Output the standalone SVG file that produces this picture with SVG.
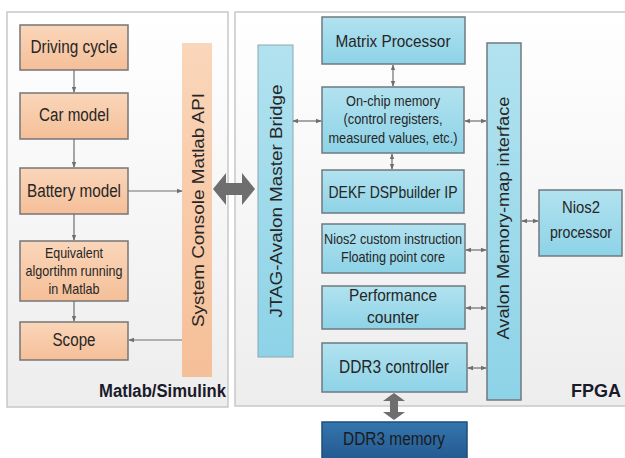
<svg xmlns="http://www.w3.org/2000/svg" width="625" height="458" viewBox="0 0 625 458">
<defs>
<linearGradient id="gPanel" x1="0" y1="0" x2="0" y2="1"><stop offset="0" stop-color="#ffffff"/><stop offset="1" stop-color="#ededed"/></linearGradient>
<linearGradient id="gOrange" x1="0" y1="0" x2="0" y2="1"><stop offset="0" stop-color="#fad6ba"/><stop offset="1" stop-color="#f5bf98"/></linearGradient>
<linearGradient id="gBlue" x1="0" y1="0" x2="0" y2="1"><stop offset="0" stop-color="#b2e2ef"/><stop offset="1" stop-color="#8dd3e7"/></linearGradient>
<linearGradient id="gDark" x1="0" y1="0" x2="0" y2="1"><stop offset="0" stop-color="#3575ae"/><stop offset="1" stop-color="#22588e"/></linearGradient>
<marker id="ah" viewBox="0 0 8 8" refX="7" refY="4" markerWidth="6" markerHeight="6" orient="auto-start-reverse" markerUnits="userSpaceOnUse"><path d="M0,1 L8,4 L0,7 Z" fill="#6f6f6f"/></marker>
</defs>
<style>
.panel{fill:url(#gPanel);stroke:#c8c8c8;stroke-width:1.5}
.ob{fill:url(#gOrange);stroke:#767676;stroke-width:1.5}
.obar{fill:url(#gOrange);stroke:none}
.bb{fill:url(#gBlue);stroke:#6f7a80;stroke-width:1.5}
.bbar{fill:url(#gBlue);stroke:#8aa8b2;stroke-width:1}
.t{font-family:"Liberation Sans Narrow","Liberation Sans",Arial,sans-serif;fill:#262626;text-anchor:middle}
.lbl{font-family:"Liberation Sans Narrow","Liberation Sans",Arial,sans-serif;font-weight:bold;fill:#1a1a2a;font-size:18px}
.c{stroke:#6f6f6f;stroke-width:1.2;fill:none}
.big{fill:#6e6e6e}
</style>
<rect class="panel" x="7" y="12" width="221" height="395"/>
<rect class="panel" x="235" y="12" width="400" height="394"/>
<text class="lbl" x="226" y="397" text-anchor="end" textLength="127" lengthAdjust="spacingAndGlyphs">Matlab/Simulink</text>
<text class="lbl" x="621" y="397" text-anchor="end">FPGA</text>

<g id="driving-cycle"><rect class="ob" x="20" y="25" width="108" height="45"/><text class="t" x="74" y="53" font-size="18" textLength="87" lengthAdjust="spacingAndGlyphs">Driving cycle</text></g>
<g id="car-model"><rect class="ob" x="20" y="93" width="108" height="46"/><text class="t" x="74" y="121" font-size="18" textLength="70" lengthAdjust="spacingAndGlyphs">Car model</text></g>
<g id="battery-model"><rect class="ob" x="20" y="168" width="108" height="46"/><text class="t" x="74" y="197" font-size="18" textLength="94" lengthAdjust="spacingAndGlyphs">Battery model</text></g>
<g id="equivalent"><rect class="ob" x="20" y="241" width="108" height="60"/>
<text class="t" x="74" y="258" font-size="14.5" textLength="58" lengthAdjust="spacingAndGlyphs">Equivalent</text>
<text class="t" x="74" y="276" font-size="14.5" textLength="97" lengthAdjust="spacingAndGlyphs">algortihm running</text>
<text class="t" x="74" y="294" font-size="14.5" textLength="51" lengthAdjust="spacingAndGlyphs">in Matlab</text></g>
<g id="scope"><rect class="ob" x="20" y="322" width="108" height="38"/><text class="t" x="74" y="346" font-size="18" textLength="43" lengthAdjust="spacingAndGlyphs">Scope</text></g>
<g id="system-console"><rect class="obar" x="182" y="43" width="30" height="334"/><text class="t" transform="translate(204,210) rotate(-90)" font-size="17" textLength="234" lengthAdjust="spacingAndGlyphs">System Console Matlab API</text></g>

<g id="jtag-bridge"><rect class="bbar" x="258" y="45" width="35" height="312"/><text class="t" transform="translate(282,201) rotate(-90)" font-size="17" textLength="233" lengthAdjust="spacingAndGlyphs">JTAG-Avalon Master Bridge</text></g>
<g id="matrix-processor"><rect class="bb" x="322" y="17" width="143" height="47"/><text class="t" x="393" y="47" font-size="17" textLength="115" lengthAdjust="spacingAndGlyphs">Matrix Processor</text></g>
<g id="onchip-memory"><rect class="bb" x="322" y="87" width="142" height="66"/>
<text class="t" x="393" y="106" font-size="15" textLength="94" lengthAdjust="spacingAndGlyphs">On-chip memory</text>
<text class="t" x="393" y="124" font-size="15" textLength="99" lengthAdjust="spacingAndGlyphs">(control registers,</text>
<text class="t" x="393" y="143" font-size="15" textLength="129" lengthAdjust="spacingAndGlyphs">measured values, etc.)</text></g>
<g id="dekf"><rect class="bb" x="322" y="170" width="142" height="43"/><text class="t" x="393" y="198" font-size="17" textLength="129" lengthAdjust="spacingAndGlyphs">DEKF DSPbuilder IP</text></g>
<g id="nios2-custom"><rect class="bb" x="322" y="224" width="143" height="49"/>
<text class="t" x="393" y="244" font-size="15" textLength="138" lengthAdjust="spacingAndGlyphs">Nios2 custom instruction</text>
<text class="t" x="393" y="262" font-size="15" textLength="104" lengthAdjust="spacingAndGlyphs">Floating point core</text></g>
<g id="performance-counter"><rect class="bb" x="322" y="286" width="143" height="43"/>
<text class="t" x="393" y="301" font-size="17" textLength="88" lengthAdjust="spacingAndGlyphs">Performance</text>
<text class="t" x="393" y="323" font-size="17" textLength="52" lengthAdjust="spacingAndGlyphs">counter</text></g>
<g id="ddr3-controller"><rect class="bb" x="322" y="343" width="145" height="49"/><text class="t" x="394" y="373" font-size="18" textLength="110" lengthAdjust="spacingAndGlyphs">DDR3 controller</text></g>
<g id="ddr3-memory"><rect x="322" y="422" width="145" height="40" fill="url(#gDark)" stroke="#1e4d7a" stroke-width="1.5"/><text class="t" x="394" y="445" font-size="18" textLength="102" lengthAdjust="spacingAndGlyphs" style="fill:#1b1b1b">DDR3 memory</text></g>
<g id="avalon-interface"><rect class="bb" x="487" y="43" width="34" height="357"/><text class="t" transform="translate(509,218) rotate(-90)" font-size="16" textLength="243" lengthAdjust="spacingAndGlyphs">Avalon Memory-map interface</text></g>
<g id="nios2-processor"><rect class="bb" x="539" y="190" width="83" height="66"/>
<text class="t" x="581" y="213" font-size="17" textLength="38" lengthAdjust="spacingAndGlyphs">Nios2</text>
<text class="t" x="581" y="238" font-size="17" textLength="62" lengthAdjust="spacingAndGlyphs">processor</text></g>

<g id="connectors">
<line class="c" x1="74" y1="70" x2="74" y2="92" marker-end="url(#ah)"/>
<line class="c" x1="74" y1="139" x2="74" y2="167" marker-end="url(#ah)"/>
<line class="c" x1="74" y1="214" x2="74" y2="240" marker-end="url(#ah)"/>
<line class="c" x1="74" y1="301" x2="74" y2="321" marker-end="url(#ah)"/>
<line class="c" x1="128" y1="191" x2="182" y2="191" marker-end="url(#ah)"/>
<line class="c" x1="182" y1="340" x2="129" y2="340" marker-end="url(#ah)"/>
<line class="c" x1="293" y1="121" x2="321" y2="121" marker-start="url(#ah)" marker-end="url(#ah)"/>
<line class="c" x1="465" y1="121" x2="486" y2="121" marker-start="url(#ah)" marker-end="url(#ah)"/>
<line class="c" x1="393" y1="65" x2="393" y2="86" marker-start="url(#ah)" marker-end="url(#ah)"/>
<line class="c" x1="392" y1="154" x2="392" y2="169" marker-start="url(#ah)" marker-end="url(#ah)"/>
<line class="c" x1="466" y1="250" x2="486" y2="250" marker-start="url(#ah)" marker-end="url(#ah)"/>
<line class="c" x1="466" y1="308" x2="486" y2="308" marker-start="url(#ah)" marker-end="url(#ah)"/>
<line class="c" x1="468" y1="368" x2="486" y2="368" marker-start="url(#ah)" marker-end="url(#ah)"/>
<line class="c" x1="522" y1="221" x2="538" y2="221" marker-start="url(#ah)" marker-end="url(#ah)"/>
<path class="big" d="M213,189 L226,173 L226,183 L242,183 L242,173 L255,189 L242,205 L242,195 L226,195 L226,205 Z"/>
<path class="big" d="M394,393 L405,401 L398,401 L398,412 L405,412 L394,420 L383,412 L390,412 L390,401 L383,401 Z"/>
</g>
</svg>
